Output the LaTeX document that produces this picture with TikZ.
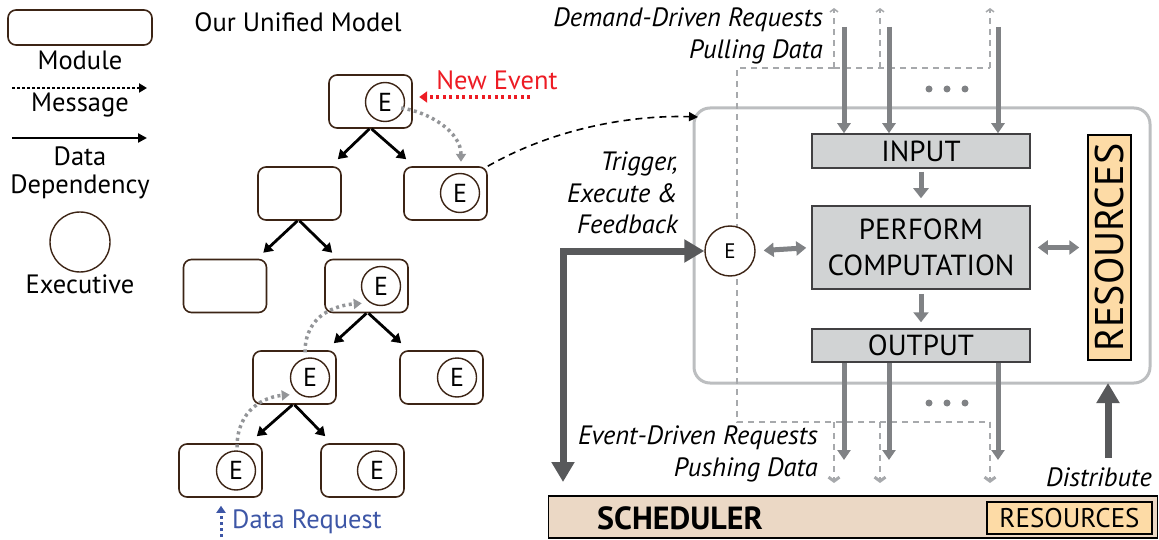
\documentclass[tikz,border=0pt]{standalone}
\usepackage{fontspec}
\setmainfont{PT Sans}
\usetikzlibrary{arrows.meta,calc}
\definecolor{brownline}{HTML}{3C2415}
\definecolor{garr}{HTML}{808285}
\definecolor{darr}{HTML}{58595B}
\definecolor{boxfill}{HTML}{D1D3D4}
\definecolor{boxline}{HTML}{414042}
\definecolor{resfill}{HTML}{FDDBA6}
\definecolor{schedfill}{HTML}{EBD8C5}
\definecolor{frameg}{HTML}{BCBEC0}
\definecolor{dashg}{HTML}{A7A9AC}
\definecolor{msgg}{HTML}{939598}
\definecolor{evred}{HTML}{ED1C24}
\definecolor{reqblue}{HTML}{3D56A6}
\newcommand{\fs}[1]{\fontsize{#1}{#1}\selectfont}
\tikzset{
  module/.style={draw=brownline, line width=1.6pt, rounded corners=8pt, minimum width=83pt, minimum height=53pt, inner sep=0pt},
  exec/.style={circle, draw=brownline, line width=1.4pt, minimum size=39pt, inner sep=0pt, font=\fs{26}},
  dep/.style={line width=2.8pt, -{Triangle[length=9pt,width=11pt]}},
  msg/.style={msgg, line width=3.5pt, dash pattern=on 3pt off 3.5pt, -{Triangle[length=8pt,width=10pt]}},
  lbl/.style={font=\fs{26.5}, inner sep=0pt},
  itl/.style={font=\fs{26.5}\itshape, inner sep=0pt},
  procbox/.style={draw=boxline, fill=boxfill, line width=1.5pt, minimum width=218pt, inner sep=0pt, font=\fs{29}},
  resbox/.style={draw=black, fill=resfill, line width=1.5pt, inner sep=0pt},
  garrow/.style={garr, line width=5pt, -{Triangle[length=10pt,width=13pt]}},
  gdbl/.style={garr, line width=5pt, {Triangle[length=10pt,width=14pt]}-{Triangle[length=10pt,width=14pt]}},
  bigarrow/.style={darr, line width=7pt, -{Triangle[length=20pt,width=22pt]}},
  gdash/.style={dashg, line width=1.5pt, dash pattern=on 6pt off 5pt},
  dotg/.style={circle, fill=garr, minimum size=7pt, inner sep=0pt},
}
\begin{document}
\begin{tikzpicture}[x=1pt,y=-1pt]
\useasboundingbox (0,0) rectangle (1159,540);

% ---------- legend ----------
\node[module, minimum width=144pt, minimum height=35pt] (legmod) at (80,27.5) {};
\node[lbl] (legmodt) at (80,60) {Module};
\coordinate (lm1) at (12,88);
\coordinate (lm2) at (147,88);
\draw[line width=2.5pt, dash pattern=on 2.5pt off 2.5pt, -{Triangle[length=8pt,width=9pt]}] (lm1) -- (lm2);
\node[lbl] (legmsg) at (80,105) {Message};
\coordinate (ld1) at (12,138);
\coordinate (ld2) at (147,138);
\draw[line width=2.5pt, -{Triangle[length=9pt,width=9pt]}] (ld1) -- (ld2);
\node[lbl] (legdata) at (80,156) {Data};
\node[lbl] (legdep) at (80,187) {Dependency};
\node[circle, draw=brownline, line width=1.4pt, minimum size=60pt, inner sep=0pt] (legexec) at (80,242) {};
\node[lbl] (legexect) at (80,284) {Executive};

% ---------- tree ----------
\node[lbl] (title) at (298,22) {Our Unified Model};
\node[module] (T1) at (370.5,101.5) {};
\node[exec] (E1) at (385,102) {E};
\node[module] (T2L) at (299.5,193.5) {};
\node[module] (T2R) at (445.5,193.5) {};
\node[exec] (E2R) at (460,193) {E};
\node[module] (T3L) at (225,286) {};
\node[module] (T3R) at (366.5,286) {};
\node[exec] (E3R) at (381,286) {E};
\node[module] (T4L) at (294.5,377.5) {};
\node[exec] (E4L) at (310,377.5) {E};
\node[module] (T4R) at (441.5,377.5) {};
\node[exec] (E4R) at (457,377.5) {E};
\node[module] (T5L) at (220.5,470.5) {};
\node[exec] (E5L) at (236,470.5) {E};
\node[module] (T5R) at (362.5,470.5) {};
\node[exec] (E5R) at (377,470.5) {E};

\draw[dep] ($(T1.south)+(-1,0)$) -- ($(T2L.north east)+(-4,-7)$);
\draw[dep] ($(T1.south)+(1,0)$) -- ($(T2R.north west)+(3,-7)$);
\draw[dep] ($(T2L.south)+(-2,0)$) -- ($(T3L.north east)+(-4,-6)$);
\draw[dep] ($(T2L.south)+(0,0)$) -- ($(T3R.north west)+(8,-6)$);
\draw[dep] ($(T3R.south)+(0,0)$) -- ($(T4L.north east)+(-3,-7)$);
\draw[dep] ($(T3R.south)+(2,0)$) -- ($(T4R.north west)+(2,-7)$);
\draw[dep] ($(T4L.south)+(-2,0)$) -- ($(T5L.north east)+(-6,-7)$);
\draw[dep] ($(T4L.south)+(0,0)$) -- ($(T5R.north west)+(5,-7)$);

% messages
\draw[msg] ($(E1.east)+(-4,6)$) .. controls +(28,4) and +(0,-30) .. ($(E2R.north)+(1,-11)$);
\draw[msg] ($(E5L.north)+(1,-3)$) .. controls +(0,-38) and +(-25,2) .. ($(E4L.south west)+(-6,3)$);
\draw[msg] ($(E4L.north)+(-5,-5)$) .. controls +(0,-38) and +(-25,2) .. ($(E3R.south west)+(-5,3)$);
\coordinate (nev) at (530,97);
\draw[evred, line width=3.5pt, dash pattern=on 3pt off 3.5pt, -{Triangle[length=8pt,width=11pt]}] (nev) -- ($(E1.east)+(14,-5)$);
\node[lbl, text=evred] (newev) at (497,80) {New Event};
\coordinate (dr) at (221,537);
\draw[reqblue, line width=3pt, dash pattern=on 3pt off 3pt, -{Triangle[length=7pt,width=9pt]}] (dr) -- ($(T5L.south)+(0.5,8)$);
\node[lbl, text=reqblue, anchor=west] (dreq) at (232,522) {Data Request};

% ---------- right part ----------
\draw[frameg, line width=3pt, rounded corners=16pt] (694,108) rectangle (1150,383);
\node[procbox, minimum height=34pt] (INPUT) at (921,151) {INPUT};
\node[procbox, minimum height=83pt, align=center] (PERF) at (921,247.5) {PERFORM\\[7pt]COMPUTATION};
\node[procbox, minimum height=33pt] (OUTPUT) at (921,345.5) {OUTPUT};
\node[resbox, minimum width=43pt, minimum height=225pt] (RES) at (1109.5,247.5) {};
\node[font=\fs{40}, rotate=90, inner sep=0pt] (REStxt) at (RES.center) {RESOURCES};

% dashed request lines
\draw[gdash] (834,68) -- (737,68) -- (737,422) -- (990,422);
\draw[gdash] (834,68) -- (990,68);
\coordinate (u1) at (834,8);
\coordinate (u2) at (880,8);
\coordinate (u3) at (990,8);
\draw[gdash, -{Straight Barb[length=3pt,width=8pt]}] (834,68) -- (u1);
\draw[gdash, -{Straight Barb[length=3pt,width=8pt]}] (880,68) -- (u2);
\draw[gdash, -{Straight Barb[length=3pt,width=8pt]}] (990,68) -- (u3);
\coordinate (d1) at (834,483);
\coordinate (d2) at (880,483);
\coordinate (d3) at (990,483);
\draw[gdash, -{Straight Barb[length=4pt,width=11pt,line width=3pt]}] (834,422) -- (d1);
\draw[gdash, -{Straight Barb[length=4pt,width=11pt,line width=3pt]}] (880,422) -- (d2);
\draw[gdash, -{Straight Barb[length=4pt,width=11pt,line width=3pt]}] (990,422) -- (d3);

\node[exec, minimum size=50pt, fill=white, font=\fs{21}] (EX) at (730,251) {E};

% gray arrows
\coordinate (i1) at (844,27);
\coordinate (i2) at (889,27);
\coordinate (i3) at (998,27);
\draw[garrow] (i1) -- (i1 |- INPUT.north);
\draw[garrow] (i2) -- (i2 |- INPUT.north);
\draw[garrow] (i3) -- (i3 |- INPUT.north);
\coordinate (o1) at (844,460);
\coordinate (o2) at (889,460);
\coordinate (o3) at (998,460);
\draw[garrow] (o1 |- OUTPUT.south) -- (o1);
\draw[garrow] (o2 |- OUTPUT.south) -- (o2);
\draw[garrow] (o3 |- OUTPUT.south) -- (o3);
\draw[garrow, -{Triangle[length=10pt,width=15pt]}, shorten <=3pt, shorten >=7pt] (INPUT.south) -- (PERF.north);
\draw[garrow, -{Triangle[length=10pt,width=15pt]}, shorten <=4pt, shorten >=6pt] (PERF.south) -- (OUTPUT.north);
\draw[gdbl, shorten <=8pt, shorten >=5pt] (EX.east) -- (PERF.west);
\draw[gdbl, shorten <=7pt, shorten >=8pt] (PERF.east) -- (RES.west);

\node[dotg] (ua) at (929,89) {};
\node[dotg] (ub) at (947,89) {};
\node[dotg] (uc) at (965,89) {};
\node[dotg] (la) at (929,403) {};
\node[dotg] (lb) at (947,403) {};
\node[dotg] (lc) at (965,403) {};

% texts
\node[itl, anchor=east] (dd1) at (823,20) {Demand-Driven Requests};
\node[itl, anchor=east] (dd2) at (823,52) {Pulling Data};
\node[itl, anchor=east] (ed1) at (818,438) {Event-Driven Requests};
\node[itl, anchor=east] (ed2) at (818,470) {Pushing Data};
\node[itl, anchor=east, align=right] (trig) at (678,193) {Trigger,\\[5pt]Execute \&\\[5pt]Feedback};
\node[itl, anchor=east] (distr) at (1152,477) {Distribute};

% scheduler
\node[draw=black, fill=schedfill, line width=1.5pt, minimum width=609pt, minimum height=42pt, inner sep=0pt] (SCHED) at (853,517) {};
\node[font=\fs{32}\bfseries, anchor=west, inner sep=0pt] (schedt) at (597,518) {SCHEDULER};
\node[resbox, minimum width=165pt, minimum height=32pt, font=\fs{27}] (RES2) at (1069.5,518) {RESOURCES};

% big dark arrows
\coordinate (tb) at (563,482);
\coordinate (tc) at (563,251);
\draw[bigarrow] (tc) -- (tb);
\draw[bigarrow, line join=miter] ($(tc)+(0,3.5)$) -- (tc) -- (EX.west);
\coordinate (dist) at (1108,458);
\draw[bigarrow] (dist) -- (1108,383);

% dashed connector
\draw[line width=1.6pt, dash pattern=on 7pt off 5pt, -{Triangle[length=9pt,width=9pt]}] (T2R.north east) .. controls (560,125) and (640,115) .. (698,117);
\end{tikzpicture}
\end{document}
